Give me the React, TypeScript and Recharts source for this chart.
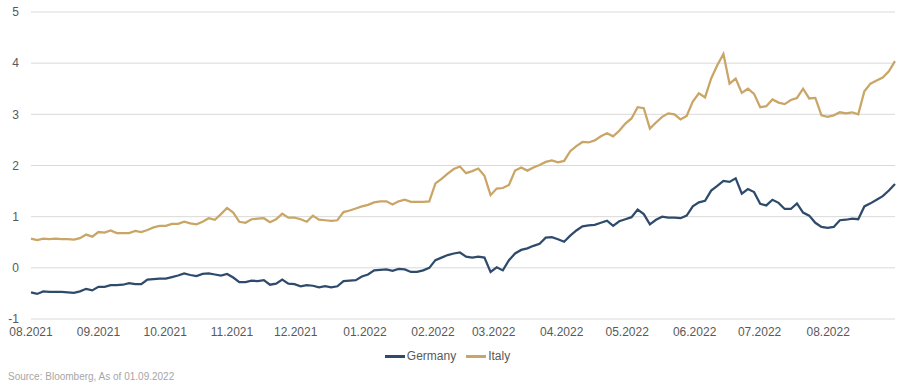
import { CartesianGrid, Legend, Line, LineChart, XAxis, YAxis } from "recharts";

// sampled every second business day, 02.08.2021 – 01.09.2022
const germany = [
  -0.48, -0.51, -0.46, -0.47, -0.47, -0.47, -0.48, -0.49, -0.46, -0.41,
  -0.44, -0.37, -0.37, -0.34, -0.34, -0.33, -0.3, -0.32, -0.32, -0.23,
  -0.22, -0.21, -0.21, -0.18, -0.15, -0.11, -0.14, -0.16, -0.12, -0.11,
  -0.13, -0.15, -0.12, -0.19, -0.28, -0.28, -0.25, -0.26, -0.24, -0.33,
  -0.31, -0.23, -0.31, -0.32, -0.36, -0.34, -0.35, -0.38, -0.36, -0.38,
  -0.36, -0.26, -0.25, -0.24, -0.17, -0.13, -0.05, -0.04, -0.03, -0.06,
  -0.02, -0.03, -0.08, -0.08, -0.05, 0.0, 0.15, 0.2, 0.25, 0.28,
  0.3, 0.22, 0.2, 0.22, 0.2, -0.08, 0.01, -0.05, 0.15, 0.28,
  0.35, 0.38, 0.43, 0.47, 0.59, 0.6, 0.56, 0.51, 0.63, 0.73,
  0.81, 0.83, 0.84, 0.88, 0.92, 0.82, 0.91, 0.95, 0.99, 1.14,
  1.05, 0.85, 0.94, 1.0, 0.98, 0.98, 0.97, 1.02, 1.2, 1.28,
  1.31, 1.51, 1.6, 1.7, 1.68, 1.75, 1.45, 1.54, 1.48, 1.25,
  1.22, 1.33, 1.27, 1.15, 1.15, 1.26, 1.08, 1.02, 0.88, 0.8,
  0.78, 0.8, 0.93, 0.94, 0.96, 0.95, 1.2, 1.26, 1.33, 1.4,
  1.51, 1.64,
];

const italy = [
  0.57, 0.54, 0.57, 0.56, 0.57, 0.56, 0.56, 0.55, 0.58, 0.65,
  0.61, 0.7, 0.69, 0.73, 0.68, 0.68, 0.68, 0.72, 0.7, 0.74,
  0.79, 0.82, 0.82, 0.86, 0.86, 0.9, 0.87, 0.85, 0.9, 0.97,
  0.94, 1.05, 1.17, 1.08, 0.9, 0.88, 0.95, 0.96, 0.97, 0.89,
  0.95, 1.06, 0.98, 0.98, 0.95, 0.9, 1.02, 0.94, 0.93, 0.92,
  0.93, 1.09, 1.12, 1.16, 1.2, 1.23, 1.28, 1.3, 1.3, 1.24,
  1.3, 1.33, 1.29, 1.29, 1.29, 1.3, 1.65, 1.74, 1.84, 1.93,
  1.98, 1.85, 1.89, 1.94, 1.8, 1.42, 1.55, 1.56, 1.62, 1.9,
  1.96, 1.9, 1.96, 2.01, 2.07, 2.1, 2.06, 2.09, 2.28, 2.38,
  2.46, 2.45, 2.49, 2.57, 2.63, 2.57, 2.68, 2.82, 2.92, 3.14,
  3.12, 2.72, 2.84, 2.95, 3.02, 3.0, 2.9, 2.97, 3.25, 3.41,
  3.33, 3.7, 3.96, 4.18, 3.6, 3.7, 3.42, 3.5, 3.4, 3.14,
  3.16, 3.29, 3.23, 3.2, 3.28, 3.32, 3.5, 3.31, 3.32, 2.98,
  2.95, 2.98, 3.04, 3.02, 3.04, 3.0, 3.45, 3.6, 3.66, 3.72,
  3.84, 4.04,
];

const monthLabels = [
  "08.2021", "09.2021", "10.2021", "11.2021", "12.2021", "01.2022", "02.2022",
  "03.2022", "04.2022", "05.2022", "06.2022", "07.2022", "08.2022",
];
// position of each month start on the sample index
const monthTicks = [0, 11, 21.9, 32.8, 43.2, 54.5, 65.6, 75.5, 86.6, 97.3, 108.3, 118.9, 130.1];

const yTicks = [-1, 0, 1, 2, 3, 4, 5];

const data = germany.map((g, i) => ({ i, Germany: g, Italy: italy[i] }));

const GERMANY = "#2f4b6c";
const ITALY = "#c9a566";
const TEXT = "#595959";

function LegendRow() {
  const items = [
    { name: "Germany", color: GERMANY },
    { name: "Italy", color: ITALY },
  ];
  return (
    <div style={{ display: "flex", justifyContent: "center", gap: 10, fontSize: 12, color: TEXT }}>
      {items.map((it) => (
        <div key={it.name} style={{ display: "flex", alignItems: "center" }}>
          <span style={{ display: "inline-block", width: 20, height: 3, background: it.color, marginRight: 2 }} />
          {it.name}
        </div>
      ))}
    </div>
  );
}

export default function App() {
  return (
    <div style={{ position: "relative", width: 906, height: 390, background: "#fff", fontFamily: "'Liberation Sans', Arial, sans-serif" }}>
      <style>{"body{margin:0}"}</style>
      <LineChart width={906} height={376} data={data} margin={{ top: 12, right: 11, left: 0, bottom: 5 }}>
        <CartesianGrid vertical={false} stroke="#d9d9d9" />
        <XAxis
          dataKey="i"
          type="number"
          domain={[0, germany.length - 1]}
          ticks={monthTicks}
          tickFormatter={(v: number) => monthLabels[monthTicks.indexOf(v)]}
          interval={0}
          axisLine={false}
          tickLine={false}
          tick={{ fill: TEXT, fontSize: 12 }}
        />
        <YAxis
          domain={[-1, 5]}
          ticks={yTicks}
          width={31}
          axisLine={false}
          tickLine={false}
          tickMargin={6}
          tick={{ fill: TEXT, fontSize: 12 }}
        />
        <Legend verticalAlign="bottom" height={22} content={() => <LegendRow />} />
        <Line type="linear" dataKey="Germany" stroke={GERMANY} strokeWidth={2.25} dot={false} isAnimationActive={false} />
        <Line type="linear" dataKey="Italy" stroke={ITALY} strokeWidth={2.25} dot={false} isAnimationActive={false} />
      </LineChart>
      <div style={{ position: "absolute", left: 8, top: 371, fontSize: 10, color: "#a6a6a6" }}>
        Source: Bloomberg, As of 01.09.2022
      </div>
    </div>
  );
}
